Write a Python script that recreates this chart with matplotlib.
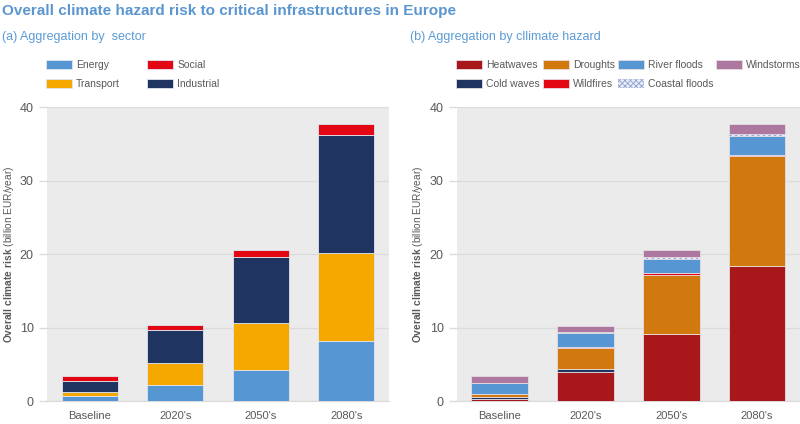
import numpy as np
import matplotlib
matplotlib.use("Agg")
import matplotlib.pyplot as plt

plt.rcParams["font.family"] = ["Liberation Sans", "DejaVu Sans"]
plt.rcParams["hatch.linewidth"] = 0.6
plt.rcParams["mathtext.fontset"] = "custom"
plt.rcParams["mathtext.bf"] = "Liberation Sans:bold"
plt.rcParams["mathtext.rm"] = "Liberation Sans"

periods = ["Baseline", "2020's", "2050's", "2080's"]

# (a) by sector
energy = [0.72, 2.18, 4.3, 8.2]
transport = [0.55, 3.0, 6.3, 12.0]
industrial = [1.55, 4.55, 9.05, 16.0]
social = [0.6, 0.6, 0.9, 1.5]

# (b) by hazard
heatwaves = [0.27, 4.0, 9.1, 18.4]
cold_waves = [0.33, 0.35, 0.05, 0.05]
droughts = [0.35, 2.95, 8.05, 15.0]
wildfires = [0.05, 0.1, 0.3, 0.05]
river_floods = [1.45, 1.95, 1.9, 2.65]
coastal_floods = [0.05, 0.1, 0.25, 0.25]
windstorms = [0.9, 0.85, 0.9, 1.3]

grey = "#595959"
bg = "#ebebeb"

fig = plt.figure(figsize=(8, 4.24), dpi=100)

fig.text(0.003, 0.975, "Overall climate hazard risk to critical infrastructures in Europe",
         fontsize=11, fontweight="bold", color="#5b96d0", va="center", ha="left")
fig.text(0.003, 0.913, "(a) Aggregation by  sector", fontsize=9, color="#5b9bd5",
         va="center", ha="left")
fig.text(0.513, 0.913, "(b) Aggregation by cllimate hazard", fontsize=9, color="#5b9bd5",
         va="center", ha="left")

ax1 = fig.add_axes([0.05875, 0.0535, 0.4275, 0.693])
ax2 = fig.add_axes([0.571, 0.0535, 0.429, 0.693])

x = np.arange(len(periods))
w = 0.66

sector_series = [
    ("Energy", energy, "#5596d3"),
    ("Transport", transport, "#f5a800"),
    ("Industrial", industrial, "#1f3461"),
    ("Social", social, "#e30613"),
]
handles1 = {}
bottom = np.zeros(len(periods))
for name, vals, col in sector_series:
    b = ax1.bar(x, vals, w, bottom=bottom, color=col, edgecolor="#dfe6f0",
                linewidth=0.6, zorder=3, label=name)
    handles1[name] = b
    bottom += np.array(vals)

hazard_series = [
    ("Heatwaves", heatwaves, "#a8171a", None),
    ("Cold waves", cold_waves, "#1f3461", None),
    ("Droughts", droughts, "#d1780e", None),
    ("Wildfires", wildfires, "#e30613", None),
    ("River floods", river_floods, "#5596d3", None),
    ("Coastal floods", coastal_floods, "#e8ecf6", "xxxxxx"),
    ("Windstorms", windstorms, "#ad789f", None),
]
handles2 = {}
bottom = np.zeros(len(periods))
for name, vals, col, hatch in hazard_series:
    if hatch:
        b = ax2.bar(x, vals, w, bottom=bottom, color=col, edgecolor="#8ea3d0",
                    linewidth=0, hatch=hatch, zorder=3, label=name)
    else:
        b = ax2.bar(x, vals, w, bottom=bottom, color=col, edgecolor="#e6dde3",
                    linewidth=0.6, zorder=3, label=name)
    handles2[name] = b
    bottom += np.array(vals)

ylab = r"$\bf{Overall\ climate\ risk}$ (billion EUR/year)"
for ax in (ax1, ax2):
    ax.set_facecolor(bg)
    ax.set_xlim(-0.5, 3.5)
    ax.set_ylim(0, 40)
    ax.set_yticks([0, 10, 20, 30, 40])
    ax.set_xticks(x)
    ax.set_xticklabels(periods)
    ax.yaxis.grid(True, color="#dcdcdc", linewidth=1.0, zorder=0)
    ax.set_axisbelow(True)
    for s in ["top", "right", "left"]:
        ax.spines[s].set_visible(False)
    ax.spines["bottom"].set_color("#d9d9d9")
    ax.tick_params(axis="y", length=5.5, color="#dcdcdc", width=1.0, labelsize=9,
                   labelcolor=grey, pad=4)
    ax.tick_params(axis="x", length=0, labelsize=8, labelcolor=grey, pad=7)
    ax.set_ylabel(ylab, fontsize=7.3, color=grey, labelpad=3)

leg_kw = dict(frameon=False, fontsize=7.5, labelcolor=grey,
              handlelength=2.5, handleheight=0.95, handletextpad=0.4,
              labelspacing=0.8, borderaxespad=0)
leg1 = fig.legend([handles1[n] for n in ["Energy", "Transport", "Social", "Industrial"]],
                  ["Energy", "Transport", "Social", "Industrial"],
                  ncol=2, loc="upper left", bbox_to_anchor=(0.052, 0.868),
                  columnspacing=2.6, **leg_kw)
order2 = ["Heatwaves", "Cold waves", "Droughts", "Wildfires",
          "River floods", "Coastal floods", "Windstorms"]
leg2 = fig.legend([handles2[n] for n in order2], order2,
                  ncol=4, loc="upper left", bbox_to_anchor=(0.565, 0.868),
                  columnspacing=0.26, **leg_kw)

fig.savefig("out.png", dpi=100)
